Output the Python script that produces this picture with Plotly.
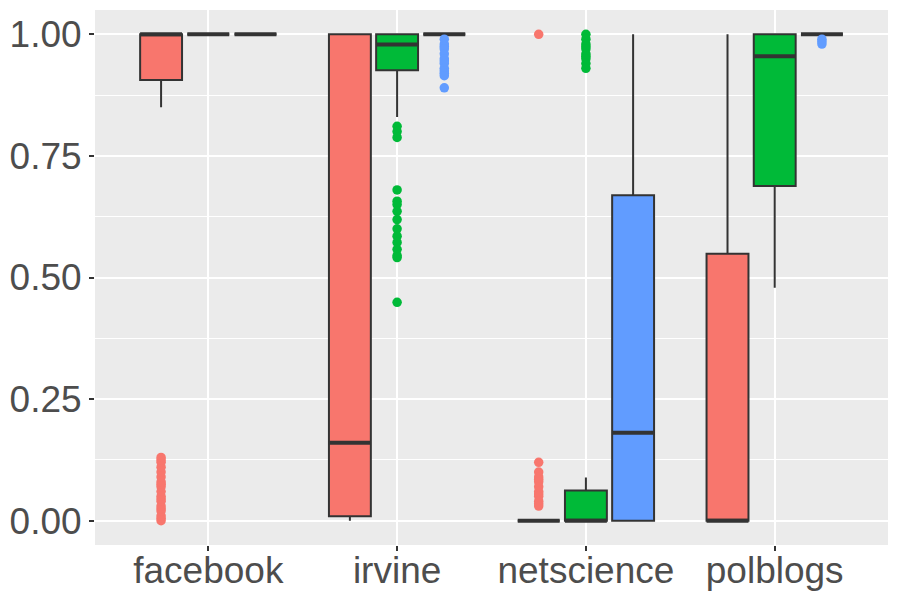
import plotly.graph_objects as go

categories = ["facebook", "irvine", "netscience", "polblogs"]
groups = ["A", "B", "C"]
colors = ["#F8766D", "#00BA38", "#619CFF"]

# per group: values for each category (facebook, irvine, netscience, polblogs)
q1 = {
    "A": [0.906, 0.009, 0.0, 0.0],
    "B": [1.0, 0.926, 0.0, 0.688],
    "C": [1.0, 1.0, 0.0, 1.0],
}
median = {
    "A": [1.0, 0.16, 0.0, 0.0],
    "B": [1.0, 0.979, 0.0, 0.955],
    "C": [1.0, 1.0, 0.181, 1.0],
}
q3 = {
    "A": [1.0, 1.0, 0.0, 0.549],
    "B": [1.0, 1.0, 0.062, 1.0],
    "C": [1.0, 1.0, 0.669, 1.0],
}
lowerfence = {
    "A": [0.85, 0.0, 0.0, 0.0],
    "B": [1.0, 0.83, 0.0, 0.479],
    "C": [1.0, 1.0, 0.0, 1.0],
}
upperfence = {
    "A": [1.0, 1.0, 0.0, 1.0],
    "B": [1.0, 1.0, 0.089, 1.0],
    "C": [1.0, 1.0, 1.0, 1.0],
}
outliers = {
    "A": [
        [0.0, 0.005, 0.01, 0.02, 0.025, 0.03, 0.04, 0.045, 0.05, 0.06, 0.07,
         0.075, 0.08, 0.09, 0.1, 0.11, 0.12, 0.125, 0.13],
        [],
        [1.0, 0.12, 0.1, 0.09, 0.085, 0.08, 0.07, 0.06, 0.055, 0.05, 0.04,
         0.035, 0.03],
        [],
    ],
    "B": [
        [],
        [0.811, 0.80, 0.788, 0.68, 0.657, 0.65, 0.636, 0.619, 0.60, 0.585,
         0.572, 0.558, 0.545, 0.541, 0.449],
        [1.0, 0.99, 0.98, 0.975, 0.97, 0.96, 0.955, 0.95, 0.94, 0.93],
        [],
    ],
    "C": [
        [],
        [0.99, 0.98, 0.975, 0.97, 0.96, 0.95, 0.945, 0.94, 0.93, 0.925,
         0.92, 0.915, 0.89],
        [],
        [0.99, 0.985, 0.98],
    ],
}

slot = 0.25
box_w = 0.222
line_col = "#333333"

fig = go.Figure()
cat_pos = list(range(1, len(categories) + 1))

for gi, g in enumerate(groups):
    off = (gi - 1) * slot
    xs = [p + off for p in cat_pos]
    fig.add_trace(go.Box(
        x=xs, q1=q1[g], median=median[g], q3=q3[g],
        lowerfence=lowerfence[g], upperfence=upperfence[g],
        width=box_w, fillcolor=colors[gi],
        line=dict(color=line_col, width=2),
        whiskerwidth=0, boxpoints=False, showlegend=False,
        hoverinfo="skip",
    ))
    # thick median segments
    mx, my = [], []
    for x, m in zip(xs, median[g]):
        mx += [x - box_w / 2, x + box_w / 2, None]
        my += [m, m, None]
    fig.add_trace(go.Scatter(
        x=mx, y=my, mode="lines",
        line=dict(color=line_col, width=4),
        showlegend=False, hoverinfo="skip",
    ))
    # outliers
    ox, oy = [], []
    for x, vals in zip(xs, outliers[g]):
        ox += [x] * len(vals)
        oy += vals
    fig.add_trace(go.Scatter(
        x=ox, y=oy, mode="markers",
        marker=dict(color=colors[gi], size=9.5, line=dict(width=0)),
        showlegend=False, hoverinfo="skip",
    ))

fig.update_layout(
    width=900, height=600,
    margin=dict(l=95, r=12, t=10, b=55),
    paper_bgcolor="white",
    plot_bgcolor="#EBEBEB",
    font=dict(family="Liberation Sans, Arial, sans-serif", size=37, color="#4D4D4D"),
    showlegend=False,
)
fig.update_xaxes(
    range=[0.4, 4.6], tickvals=cat_pos, ticktext=categories,
    showgrid=True, gridcolor="white", gridwidth=1.8, zeroline=False,
    ticks="outside", ticklen=5, tickwidth=1.5, tickcolor=line_col,
    tickfont=dict(size=37, color="#4D4D4D"), showline=False, automargin=False,
    ticklabelstandoff=-12,
)
fig.update_yaxes(
    range=[-0.05, 1.05], tickvals=[0, 0.25, 0.5, 0.75, 1.0],
    ticktext=["0.00", "0.25", "0.50", "0.75", "1.00"],
    showgrid=True, gridcolor="white", gridwidth=1.8, zeroline=False,
    ticks="outside", ticklen=5, tickwidth=1.5, tickcolor=line_col,
    tickfont=dict(size=37, color="#4D4D4D"), showline=False, automargin=False,
    minor=dict(tickvals=[0.125, 0.375, 0.625, 0.875], showgrid=True,
               gridcolor="white", gridwidth=0.8, ticks=""),
)

fig.write_html("out.html")
